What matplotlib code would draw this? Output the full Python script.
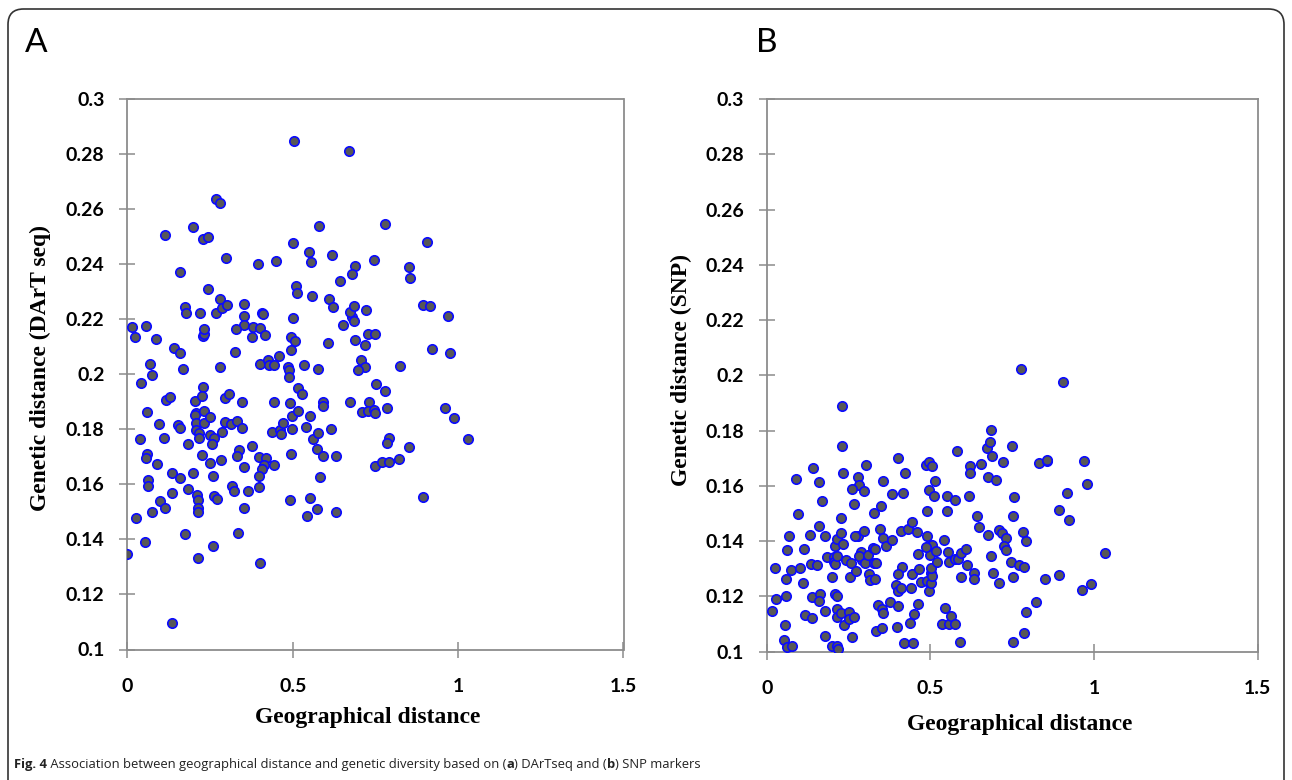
import matplotlib

matplotlib.use('Agg')
import matplotlib.pyplot as plt
from matplotlib.patches import FancyBboxPatch
from matplotlib.text import Annotation

# Panel A: DArTseq (geographical distance, genetic distance)
a_x = [0.505, 0.671, 0.267, 0.279, 0.199, 0.580, 0.779, 0.114, 0.229, 0.244,
       0.502, 0.549, 0.556, 0.619, 0.299, 0.396, 0.450, 0.159, 0.745, 0.687,
       0.679, 0.643, 0.245, 0.510, 0.512, 0.558, 0.609, 0.621, 0.280, 0.174,
       0.178, 0.221, 0.268, 0.286, 0.302, 0.353, 0.353, 0.354, 0.407, 0.410,
       0.500, 0.679, 0.673, 0.685, 0.685, 0.653, 0.722, 0.727, 0.749, 0.014,
       0.024, 0.057, 0.088, 0.140, 0.160, 0.069, 0.075, 0.041, 0.168, 0.228,
       0.233, 0.233, 0.281, 0.328, 0.327, 0.379, 0.378, 0.400, 0.415, 0.401,
       0.424, 0.429, 0.443, 0.458, 0.487, 0.488, 0.488, 0.494, 0.495, 0.506,
       0.535, 0.576, 0.608, 0.689, 0.706, 0.719, 0.719, 0.697, 0.752, 0.824,
       0.228, 0.517, 0.529, 0.780,
       0.116, 0.129, 0.205, 0.227, 0.208, 0.204, 0.207, 0.208, 0.218, 0.218,
       0.233, 0.233, 0.251, 0.295, 0.308, 0.347, 0.060, 0.095, 0.152, 0.159,
       0.038, 0.110, 0.183, 0.060, 0.056, 0.090, 0.251, 0.263, 0.256, 0.287,
       0.294, 0.313, 0.331, 0.346, 0.227, 0.251, 0.284, 0.258, 0.338, 0.332,
       0.378, 0.353, 0.397, 0.419, 0.412, 0.406, 0.399, 0.443, 0.437, 0.462,
       0.466, 0.471, 0.498, 0.491, 0.516, 0.443, 0.498, 0.496, 0.540, 0.551,
       0.561, 0.576, 0.573, 0.591, 0.583, 0.591, 0.593, 0.615, 0.630, 0.674,
       0.710, 0.730, 0.727, 0.747, 0.750, 0.785, 0.792, 0.784, 0.749, 0.769,
       0.792, 0.820, 0.062, 0.062, 0.136, 0.160, 0.198, 0.183, 0.136, 0.100,
       0.113, 0.075, 0.025, 0.210, 0.215, 0.214, 0.213, 0.263, 0.272, 0.317,
       0.323, 0.365, 0.399, 0.352, 0.493, 0.551, 0.573, 0.542, 0.632, 0.175,
       0.053, 0.258, 0.334, 0.213, 0.401, 0.000, 0.136,
       0.905, 0.853, 0.856, 0.893, 0.916, 0.969, 0.921, 0.976, 0.961, 0.988,
       1.030, 0.852, 0.893]
a_y = [0.2847, 0.2810, 0.2635, 0.2623, 0.2535, 0.2540, 0.2546, 0.2506, 0.2490, 0.2497,
       0.2478, 0.2445, 0.2406, 0.2433, 0.2422, 0.2400, 0.2411, 0.2372, 0.2416, 0.2392,
       0.2366, 0.2339, 0.2311, 0.2320, 0.2297, 0.2286, 0.2273, 0.2244, 0.2273, 0.2244,
       0.2223, 0.2224, 0.2224, 0.2239, 0.2251, 0.2256, 0.2211, 0.2178, 0.2222, 0.2218,
       0.2205, 0.2209, 0.2227, 0.2248, 0.2193, 0.2178, 0.2233, 0.2147, 0.2148, 0.2172,
       0.2136, 0.2175, 0.2128, 0.2096, 0.2077, 0.2038, 0.1997, 0.1969, 0.2019, 0.2139,
       0.2148, 0.2163, 0.2028, 0.2165, 0.2080, 0.2170, 0.2136, 0.2167, 0.2143, 0.2036,
       0.2051, 0.2032, 0.2032, 0.2067, 0.2026, 0.2014, 0.1989, 0.2089, 0.2136, 0.2120,
       0.2034, 0.2019, 0.2112, 0.2123, 0.2052, 0.2106, 0.2026, 0.2014, 0.1966, 0.2029,
       0.1955, 0.1949, 0.1929, 0.1940,
       0.1906, 0.1918, 0.1901, 0.1922, 0.1860, 0.1851, 0.1824, 0.1799, 0.1785, 0.1769,
       0.1866, 0.1824, 0.1844, 0.1914, 0.1927, 0.1899, 0.1862, 0.1821, 0.1815, 0.1806,
       0.1763, 0.1767, 0.1746, 0.1712, 0.1695, 0.1674, 0.1778, 0.1767, 0.1745, 0.1790,
       0.1826, 0.1820, 0.1831, 0.1806, 0.1706, 0.1677, 0.1690, 0.1630, 0.1723, 0.1704,
       0.1741, 0.1663, 0.1699, 0.1695, 0.1670, 0.1655, 0.1630, 0.1669, 0.1790, 0.1797,
       0.1782, 0.1824, 0.1850, 0.1894, 0.1867, 0.1899, 0.1801, 0.1710, 0.1809, 0.1850,
       0.1765, 0.1788, 0.1728, 0.1702, 0.1625, 0.1898, 0.1886, 0.1801, 0.1703, 0.1898,
       0.1863, 0.1899, 0.1866, 0.1869, 0.1860, 0.1877, 0.1767, 0.1751, 0.1665, 0.1680,
       0.1680, 0.1691, 0.1615, 0.1594, 0.1640, 0.1622, 0.1640, 0.1582, 0.1570, 0.1539,
       0.1513, 0.1501, 0.1479, 0.1561, 0.1542, 0.1515, 0.1499, 0.1558, 0.1548, 0.1593,
       0.1575, 0.1576, 0.1590, 0.1515, 0.1544, 0.1549, 0.1509, 0.1484, 0.1501, 0.1419,
       0.1392, 0.1377, 0.1422, 0.1333, 0.1314, 0.1348, 0.1095,
       0.2480, 0.2388, 0.2350, 0.2251, 0.2249, 0.2210, 0.2092, 0.2077, 0.1879, 0.1841,
       0.1765, 0.1736, 0.1555]

# Panel B: SNP (geographical distance, genetic distance)
b_x = [0.231, 0.231, 0.234, 0.143, 0.160, 0.090, 0.168, 0.096, 0.304, 0.280,
       0.282, 0.262, 0.296, 0.267, 0.227, 0.161, 0.069, 0.131, 0.179, 0.063,
       0.115, 0.025, 0.075, 0.102, 0.058, 0.111, 0.058, 0.028, 0.016, 0.055,
       0.054, 0.061, 0.077, 0.136, 0.154, 0.137, 0.162, 0.161, 0.177, 0.117,
       0.138, 0.178, 0.199, 0.216, 0.217, 0.183, 0.200, 0.207, 0.205, 0.208,
       0.216, 0.210, 0.216, 0.227, 0.234, 0.210, 0.215, 0.214, 0.215, 0.226,
       0.236, 0.253, 0.252, 0.267, 0.260, 0.255, 0.242, 0.258, 0.274, 0.287,
       0.292, 0.281, 0.301, 0.310, 0.324, 0.330, 0.327, 0.279, 0.269, 0.298,
       0.313, 0.316, 0.332, 0.333, 0.328, 0.348, 0.356, 0.382, 0.416, 0.402,
       0.424, 0.346, 0.354, 0.365, 0.382, 0.340, 0.353, 0.355, 0.333, 0.353,
       0.378, 0.401, 0.398, 0.438, 0.450, 0.463, 0.421, 0.446, 0.409, 0.431,
       0.445, 0.460, 0.463, 0.412, 0.402, 0.396, 0.400, 0.411, 0.442, 0.445,
       0.465, 0.471, 0.490, 0.495, 0.501, 0.502, 0.506, 0.501, 0.519, 0.500,
       0.505, 0.517, 0.486, 0.489, 0.491, 0.496, 0.510, 0.514, 0.486, 0.495,
       0.505, 0.542, 0.544, 0.536, 0.558, 0.563, 0.575, 0.592, 0.552, 0.552,
       0.576, 0.582, 0.554, 0.558, 0.575, 0.586, 0.593, 0.610, 0.611, 0.595,
       0.634, 0.632, 0.617, 0.621, 0.620, 0.655, 0.644, 0.649, 0.676, 0.685,
       0.691, 0.710, 0.675, 0.700, 0.672, 0.682, 0.686, 0.689, 0.723, 0.749,
       0.709, 0.720, 0.730, 0.724, 0.730, 0.745, 0.752, 0.770, 0.786, 0.752,
       0.757, 0.784, 0.793, 0.792, 0.787, 0.752, 0.824,
       0.906, 0.832, 0.855, 0.858, 0.970, 0.979, 0.917, 0.894, 0.923, 1.033,
       0.851, 0.894, 0.963, 0.990, 0.777]
b_y = [0.1889, 0.1746, 0.1646, 0.1664, 0.1613, 0.1625, 0.1547, 0.1500, 0.1677, 0.1632,
       0.1602, 0.1589, 0.1580, 0.1535, 0.1483, 0.1455, 0.1419, 0.1422, 0.1420, 0.1367,
       0.1370, 0.1304, 0.1296, 0.1304, 0.1263, 0.1250, 0.1202, 0.1191, 0.1148, 0.1097,
       0.1043, 0.1016, 0.1022, 0.1316, 0.1313, 0.1199, 0.1208, 0.1182, 0.1147, 0.1133,
       0.1121, 0.1057, 0.1022, 0.1022, 0.1008, 0.1344, 0.1272, 0.1344, 0.1326, 0.1316,
       0.1348, 0.1384, 0.1408, 0.1431, 0.1389, 0.1208, 0.1202, 0.1156, 0.1127, 0.1141,
       0.1095, 0.1142, 0.1117, 0.1127, 0.1053, 0.1270, 0.1331, 0.1322, 0.1291, 0.1361,
       0.1332, 0.1348, 0.1320, 0.1350, 0.1377, 0.1372, 0.1321, 0.1420, 0.1419, 0.1438,
       0.1282, 0.1259, 0.1262, 0.1322, 0.1501, 0.1527, 0.1619, 0.1570, 0.1573, 0.1701,
       0.1648, 0.1444, 0.1410, 0.1381, 0.1404, 0.1168, 0.1156, 0.1139, 0.1076, 0.1084,
       0.1181, 0.1164, 0.1089, 0.1104, 0.1136, 0.1173, 0.1031, 0.1033, 0.1438, 0.1445,
       0.1471, 0.1432, 0.1354, 0.1307, 0.1281, 0.1240, 0.1220, 0.1229, 0.1231, 0.1281,
       0.1298, 0.1253, 0.1256, 0.1218, 0.1249, 0.1284, 0.1275, 0.1302, 0.1325, 0.1351,
       0.1387, 0.1366, 0.1380, 0.1419, 0.1510, 0.1585, 0.1564, 0.1619, 0.1677, 0.1687,
       0.1671, 0.1403, 0.1159, 0.1100, 0.1099, 0.1129, 0.1101, 0.1034, 0.1564, 0.1510,
       0.1548, 0.1728, 0.1361, 0.1326, 0.1336, 0.1334, 0.1357, 0.1372, 0.1313, 0.1270,
       0.1284, 0.1264, 0.1565, 0.1673, 0.1648, 0.1681, 0.1491, 0.1453, 0.1421, 0.1346,
       0.1286, 0.1250, 0.1632, 0.1622, 0.1736, 0.1758, 0.1803, 0.1708, 0.1686, 0.1745,
       0.1439, 0.1431, 0.1413, 0.1384, 0.1368, 0.1325, 0.1272, 0.1314, 0.1307, 0.1490,
       0.1559, 0.1434, 0.1402, 0.1142, 0.1066, 0.1035, 0.1180,
       0.1975, 0.1682, 0.1689, 0.1694, 0.1690, 0.1608, 0.1573, 0.1512, 0.1478, 0.1357,
       0.1263, 0.1279, 0.1222, 0.1244, 0.2024]

x_ticks = [0, 0.5, 1, 1.5]
x_labels = ['0', '0.5', '1', '1.5']
y_ticks = [0.1, 0.12, 0.14, 0.16, 0.18, 0.2, 0.22, 0.24, 0.26, 0.28, 0.3]
y_labels = ['0.1', '0.12', '0.14', '0.16', '0.18', '0.2', '0.22', '0.24', '0.26', '0.28', '0.3']

sans = ['Lato', 'DejaVu Sans']
serif = ['Liberation Serif', 'DejaVu Serif']
axis_grey = '#8c8c8c'

fig = plt.figure(figsize=(12.92, 7.8), dpi=100)

# rounded frame around the whole figure (bottom edge runs off the image)
frame = FancyBboxPatch((8 / 1292, -0.05), 1276 / 1292, 1.05 - 9 / 780,
                       boxstyle='round,pad=0,rounding_size=0.012',
                       transform=fig.transFigure, fill=False,
                       edgecolor='#333333', linewidth=1.2, mutation_aspect=1292 / 780)
fig.patches.append(frame)


def make_panel(rect, xs, ys, ylabel, xlab_pos, ylab_pos):
    ax = fig.add_axes(rect)
    ax.scatter(xs, ys, s=46, c='#575757', edgecolors='#0a0aff', linewidths=1.2, zorder=3)
    ax.set_xlim(0, 1.5)
    ax.set_ylim(0.1, 0.3)
    tick_font = dict(fontfamily=sans, fontweight='bold', fontsize=14)
    ax.set_xticks(x_ticks, labels=x_labels, **tick_font)
    ax.set_yticks(y_ticks, labels=y_labels, **tick_font)
    for s in ax.spines.values():
        s.set_color(axis_grey)
        s.set_linewidth(1.3)
    ax.tick_params(axis='both', direction='inout', color=axis_grey, width=1.1, length=11)
    ax.tick_params(axis='x', pad=15)
    ax.tick_params(axis='y', pad=11)
    ax.set_xlabel('Geographical distance', fontfamily=serif, fontweight='bold', fontsize=17)
    ax.xaxis.set_label_coords(*xlab_pos)
    ax.xaxis.label.set_va('center')
    ax.set_ylabel(ylabel, fontfamily=serif, fontweight='bold', fontsize=17)
    ax.yaxis.set_label_coords(*ylab_pos)
    ax.yaxis.label.set_va('center')
    return ax


ax_a = make_panel([127.3 / 1292, 1 - 649.5 / 780, 496.2 / 1292, 550.5 / 780],
                  a_x, a_y, 'Genetic distance (DArT seq)', (0.4845, -0.1235), (-0.176, 0.511))
ax_b = make_panel([766.7 / 1292, 1 - 651.7 / 780, 490.9 / 1292, 552.7 / 780],
                  b_x, b_y, 'Genetic distance (SNP)', (0.515, -0.132), (-0.1746, 0.51))

fig.text(25 / 1292, 1 - 43 / 780, 'A', fontsize=24, family=sans, va='center', ha='left')
fig.text(756 / 1292, 1 - 43 / 780, 'B', fontsize=24, family=sans, va='center', ha='left')

# caption, bold pieces chained after each other
pieces = [('Fig. 4', 'bold'),
          (' Association between geographical distance and genetic diversity based on (', 'normal'),
          ('a', 'bold'), (') DArTseq and (', 'normal'), ('b', 'bold'), (') SNP markers', 'normal')]
cap_font = ['Open Sans', 'DejaVu Sans']
prev = fig.text(14 / 1292, 1 - 768 / 780, pieces[0][0], fontweight=pieces[0][1],
                fontsize=9.4, family=cap_font, va='baseline', ha='left', color='#222222')
for txt, w in pieces[1:]:
    ann = Annotation(txt, xy=(1, 0), xycoords=prev, va='bottom', ha='left',
                     fontweight=w, fontsize=9.4, family=cap_font, color='#222222')
    fig.add_artist(ann)
    prev = ann

fig.savefig('out.png', dpi=100)
